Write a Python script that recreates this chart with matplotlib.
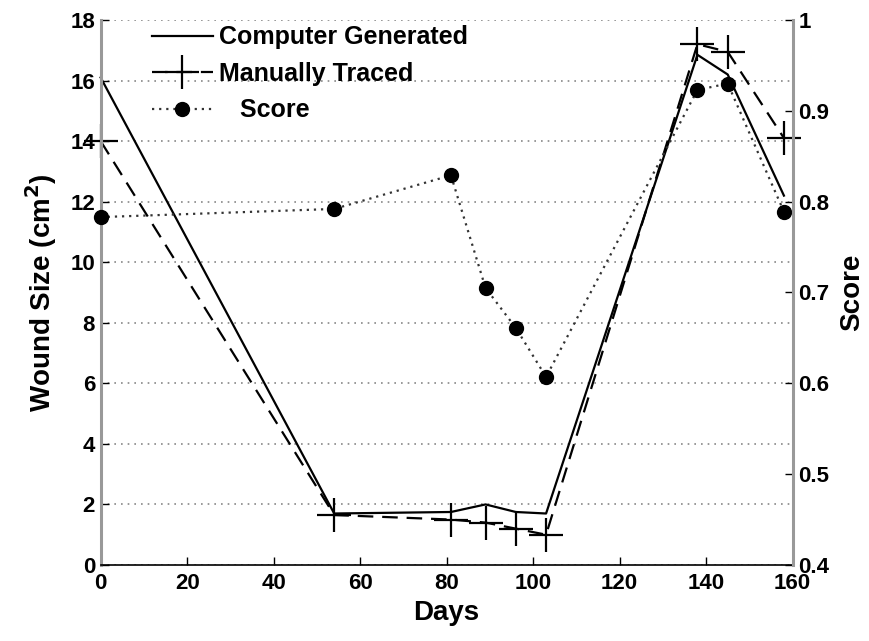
import matplotlib
matplotlib.use("Agg")
import matplotlib.pyplot as plt
from matplotlib.lines import Line2D

plt.rcParams['font.family'] = ['Liberation Sans', 'DejaVu Sans']

days = [0, 54, 81, 89, 96, 103, 138, 145, 158]
computer_generated = [16.1, 1.7, 1.75, 2.0, 1.75, 1.7, 16.85, 16.2, 12.2]
manually_traced = [14.0, 1.65, 1.5, 1.4, 1.2, 1.0, 17.2, 16.95, 14.1]
score = [0.783, 0.792, 0.829, 0.705, 0.661, 0.607, 0.923, 0.930, 0.789]

x_ticks = [0, 20, 40, 60, 80, 100, 120, 140, 160]
left_ticks = [0, 2, 4, 6, 8, 10, 12, 14, 16, 18]
right_ticks = [0.4, 0.5, 0.6, 0.7, 0.8, 0.9, 1.0]
right_labels = ['0.4', '0.5', '0.6', '0.7', '0.8', '0.9', '1']

fig = plt.figure(figsize=(8.7, 6.41), dpi=100)
ax = fig.add_axes([0.1157, 0.1186, 0.7953, 0.8502])
ax2 = ax.twinx()

ax.plot(days, computer_generated, color='black', lw=1.6, ls='-', clip_on=False)
ax.plot(days, manually_traced, color='black', lw=1.6, ls=(0, (7, 4)),
        marker='+', markersize=24, markeredgewidth=1.6, clip_on=False)
ax2.plot(days, score, color='#333333', lw=1.6, ls=(0, (1, 2.2)),
         marker='o', markersize=10, markerfacecolor='black', markeredgecolor='black',
         clip_on=False)

ax.set_xlim(0, 160)
ax.set_ylim(0, 18)
ax2.set_ylim(0.4, 1.0)
ax.set_xticks(x_ticks)
ax.set_yticks(left_ticks)
ax2.set_yticks(right_ticks)
ax2.set_yticklabels(right_labels)

for a in (ax, ax2):
    a.tick_params(direction='in', labelsize=16, length=6, width=1)
    a.spines['top'].set_visible(False)
    for lbl in a.get_xticklabels() + a.get_yticklabels():
        lbl.set_fontweight('bold')

ax.tick_params(axis='x', pad=6)
ax.tick_params(axis='y', pad=4)
ax2.tick_params(axis='y', pad=4)
ax.spines['left'].set_color('#999999')
ax.spines['left'].set_linewidth(2.2)
ax2.spines['right'].set_color('#999999')
ax2.spines['right'].set_linewidth(2.2)
ax2.spines['left'].set_visible(False)
ax2.spines['bottom'].set_visible(False)
ax.spines['right'].set_visible(False)
ax.spines['bottom'].set_linewidth(1.2)

ax.yaxis.grid(True, ls=(0, (1, 3)), color='#888888', lw=1.2)
ax.set_axisbelow(True)

ax.set_xlabel('Days', fontsize=20, fontweight='bold', labelpad=4)
ax.set_ylabel('Wound Size (cm$^{\\mathbf{2}}$)', fontsize=20, fontweight='bold', labelpad=8)
ax2.set_ylabel('Score', fontsize=20, fontweight='bold', labelpad=7)

handles = [
    Line2D([], [], color='black', lw=1.6, ls='-'),
    Line2D([], [], color='black', lw=1.6, ls=(0, (7, 4)), marker='+', markersize=24, markeredgewidth=1.6),
    Line2D([], [], color='#333333', lw=1.6, ls=(0, (1, 2.2)), marker='o', markersize=10,
           markerfacecolor='black', markeredgecolor='black'),
]
labels = ['Computer Generated', 'Manually Traced', '   Score']
leg = ax2.legend(handles, labels, loc='upper left', bbox_to_anchor=(0.074, 0.99),
                 frameon=False, handlelength=2.45, handletextpad=0.25,
                 labelspacing=0.5, borderaxespad=0, borderpad=0,
                 prop={'size': 18, 'weight': 'bold'})

fig.savefig('out.png', dpi=100)
